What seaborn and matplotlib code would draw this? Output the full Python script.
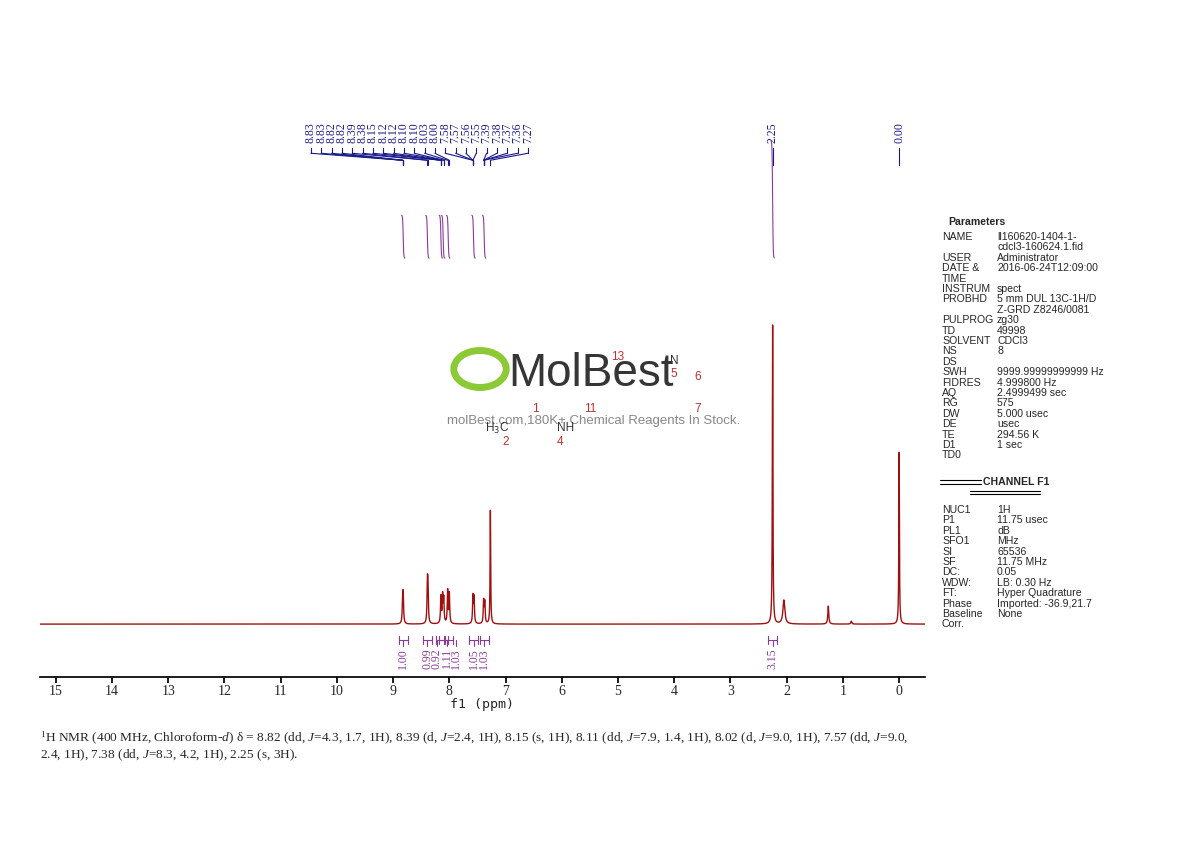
import numpy as np
import matplotlib
matplotlib.use("Agg")
import matplotlib.pyplot as plt
import seaborn as sns
import pandas as pd

# ---- data ----
peak_ppm = [8.83, 8.82, 8.39, 8.38, 8.15, 8.12, 8.10, 8.03, 8.00, 7.58, 7.56, 7.39, 7.37, 7.27, 2.25, 2.05, 1.26, 0.85, 0.00]
peak_height = [0.08, 0.08, 0.12, 0.11, 0.09, 0.09, 0.08, 0.11, 0.10, 0.09, 0.085, 0.075, 0.07, 0.38, 1.0, 0.08, 0.06, 0.01, 0.575]
peak_width = [0.008, 0.008, 0.008, 0.008, 0.008, 0.008, 0.008, 0.008, 0.008, 0.008, 0.008, 0.008, 0.008, 0.006, 0.006, 0.02, 0.01, 0.01, 0.006]
label_values = ["8.83", "8.83", "8.82", "8.82", "8.39", "8.38", "8.15", "8.12", "8.12", "8.10", "8.10", "8.03", "8.00",
                "7.58", "7.57", "7.56", "7.55", "7.39", "7.38", "7.37", "7.36", "7.27"]
integ_ppm = [8.82, 8.39, 8.15, 8.11, 8.02, 7.57, 7.38, 2.25]
integ_vals = ["1.00", "0.99", "0.92", "1.11", "1.03", "1.05", "1.03", "3.15"]
integ_lab_ppm = [8.82, 8.39, 8.22, 8.05, 7.88, 7.57, 7.38, 2.25]
xticks = list(range(15, -1, -1))

params = [("NAME", "ll160620-1404-1-"), ("", "cdcl3-160624.1.fid"), ("USER", "Administrator"),
          ("DATE &", "2016-06-24T12:09:00"), ("TIME", ""), ("INSTRUM", "spect"),
          ("PROBHD", "5 mm DUL 13C-1H/D"), ("", "Z-GRD Z8246/0081"), ("PULPROG", "zg30"),
          ("TD", "49998"), ("SOLVENT", "CDCl3"), ("NS", "8"), ("DS", ""),
          ("SWH", "9999.99999999999 Hz"), ("FIDRES", "4.999800 Hz"), ("AQ", "2.4999499 sec"),
          ("RG", "575"), ("DW", "5.000 usec"), ("DE", "usec"), ("TE", "294.56 K"),
          ("D1", "1 sec"), ("TD0", "")]
params2 = [("NUC1", "1H"), ("P1", "11.75 usec"), ("PL1", "dB"), ("SFO1", "MHz"), ("SI", "65536"),
           ("SF", "11.75 MHz"), ("DC:", "0.05"), ("WDW:", "LB: 0.30 Hz"), ("FT:", "Hyper Quadrature"),
           ("Phase", "Imported: -36.9,21.7"), ("Baseline", "None"), ("Corr.", "")]

sns.set_theme(style="white")
plt.rcParams['font.family'] = ['Liberation Sans', 'DejaVu Sans']
W, H = 1190, 841
fig = plt.figure(figsize=(11.9, 8.41), dpi=100)

def fx(px): return px / W
def fy(py): return 1 - py / H

ax = fig.add_axes([fx(40), fy(677), fx(925) - fx(40), fy(110) - fy(677)])
x = np.linspace(15.28, -0.46, 30000)
y = np.zeros_like(x)
for p, h, w in zip(peak_ppm, peak_height, peak_width):
    y += h * w**2 / ((x - p)**2 + w**2)
df = pd.DataFrame({"ppm": x, "I": y})
sns.lineplot(data=df, x="ppm", y="I", ax=ax, color="#a01010", lw=1.0, estimator=None, sort=False)
ax.set_xlim(15.28, -0.46)
ax.set_ylim(-0.177, 1.72)
for s in ["top", "left", "right"]:
    ax.spines[s].set_visible(False)
ax.spines["bottom"].set_color("black")
ax.set_yticks([])
ax.set_xticks(xticks)
ax.set_xticklabels([str(t) for t in xticks], fontsize=10, fontfamily="Liberation Serif")
ax.tick_params(axis="x", bottom=True, direction="out", length=4, color="black", pad=2)
ax.set_xlabel("f1 (ppm)", fontsize=9.5, fontfamily="DejaVu Sans Mono", labelpad=0)
ax.set_ylabel("")

def px2ppm(px): return (899 - px) / 56.2
def py2y(py): return (624 - py) / 299

navy = "#1a1a8a"
n = len(label_values)
lx = np.linspace(311, 528, n)
targets = [8.83]*4 + [8.39, 8.38] + [8.15]*3 + [8.10]*2 + [8.03, 8.00] + [7.58]*4 + [7.39]*4 + [7.27]
for xi, lab, t in zip(lx, label_values, targets):
    ax.text(px2ppm(xi), py2y(122), lab, rotation=90, ha="center", va="top", fontsize=8.5,
            color=navy, fontfamily="Liberation Serif")
    ax.plot([px2ppm(xi)]*2, [py2y(148), py2y(153)], color=navy, lw=0.8)
    ax.plot([px2ppm(xi), t], [py2y(153), py2y(160)], color=navy, lw=0.8)
    ax.plot([t, t], [py2y(160), py2y(165)], color=navy, lw=0.8)
for p, lab in [(2.25, "2.25"), (0.00, "0.00")]:
    ax.text(p, py2y(122), lab, rotation=90, ha="center", va="top", fontsize=8.5, color=navy,
            fontfamily="Liberation Serif")
    ax.plot([p, p], [py2y(148), py2y(165)], color=navy, lw=0.8)

purple = "#8b3a9a"
for p, v, lp in zip(integ_ppm, integ_vals, integ_lab_ppm):
    big = v == "3.15"
    top = 140 if big else 215
    t = np.linspace(-1, 1, 50)
    xs = p + 0.03 * t
    ys = py2y(258) + (py2y(top) - py2y(258)) * (0.5 + 0.5 * np.tanh(3 * t))
    ax.plot(xs, ys, color=purple, lw=0.8)
    ax.plot([p - 0.08, p + 0.08], [py2y(640)]*2, color=purple, lw=0.8)
    ax.plot([p - 0.08]*2, [py2y(636), py2y(644)], color=purple, lw=0.8)
    ax.plot([p + 0.08]*2, [py2y(636), py2y(644)], color=purple, lw=0.8)
    ax.plot([lp]*2, [py2y(640), py2y(646)], color=purple, lw=0.8)
    ax.text(lp, py2y(648), v, rotation=90, ha="center", va="top", fontsize=8.5, color=purple,
            fontfamily="Liberation Serif")

# watermark
fig.patches.append(matplotlib.patches.Circle((fx(480), fy(369)), 0.022, transform=fig.transFigure,
                   fill=False, ec="#7fc41f", lw=5, alpha=0.9))
fig.text(fx(508), fy(374), "MolBest", fontsize=33, color="#111111", alpha=0.85, va="center")
fig.text(fx(594), fy(421), "molBest.com,180K+ Chemical Reagents In Stock.", fontsize=9.5,
         color="#888888", ha="center", va="center")
for tx, txx, ty, c in [("H$_3$C", 497, 428, "#333333"), ("NH", 566, 428, "#333333"), ("N", 674, 361, "#333333"),
                      ("5", 674, 374, "#c03030"), ("6", 698, 377, "#c03030"), ("7", 698, 409, "#c03030"),
                      ("2", 506, 442, "#c03030"), ("4", 560, 442, "#c03030"),
                      ("13", 618, 357, "#c03030"), ("11", 590, 409, "#c03030"), ("1", 535, 409, "#c03030")]:
    fig.text(fx(txx), fy(ty), tx, fontsize=8.5, color=c, ha="center", va="center")

fs = 7.6
fig.text(fx(948), fy(222), "Parameters", fontsize=fs, fontweight="bold", va="center")
yy = 237
for k, v in params:
    fig.text(fx(942), fy(yy), k, fontsize=fs, va="center")
    fig.text(fx(997), fy(yy), v, fontsize=fs, va="center")
    yy += 10.4
fig.text(fx(983), fy(482), "CHANNEL F1", fontsize=fs, fontweight="bold", va="center")
for xa, xb, yv in [(940, 981, 480), (940, 981, 484), (970, 1040, 491), (970, 1040, 494)]:
    fig.lines.append(matplotlib.lines.Line2D([fx(xa), fx(xb)], [fy(yv)]*2, color="black", lw=0.8,
                                             transform=fig.transFigure))
yy = 510
for k, v in params2:
    fig.text(fx(942), fy(yy), k, fontsize=fs, va="center")
    fig.text(fx(997), fy(yy), v, fontsize=fs, va="center")
    yy += 10.4

plt.rcParams['mathtext.fontset'] = 'custom'
plt.rcParams['mathtext.rm'] = 'Liberation Serif'
plt.rcParams['mathtext.it'] = 'Liberation Serif:italic'
cap1 = (r"$^{1}$H NMR (400 MHz, Chloroform-$d$) δ = 8.82 (dd, $J$=4.3, 1.7, 1H), 8.39 (d, $J$=2.4, 1H), "
        r"8.15 (s, 1H), 8.11 (dd, $J$=7.9, 1.4, 1H), 8.02 (d, $J$=9.0, 1H), 7.57 (dd, $J$=9.0,")
cap2 = r"2.4, 1H), 7.38 (dd, $J$=8.3, 4.2, 1H), 2.25 (s, 3H)."
fig.text(fx(40), fy(738), cap1, fontsize=9.6, fontfamily="Liberation Serif", va="center")
fig.text(fx(40), fy(755), cap2, fontsize=9.6, fontfamily="Liberation Serif", va="center")

fig.savefig("out.png", dpi=100, facecolor="white")
